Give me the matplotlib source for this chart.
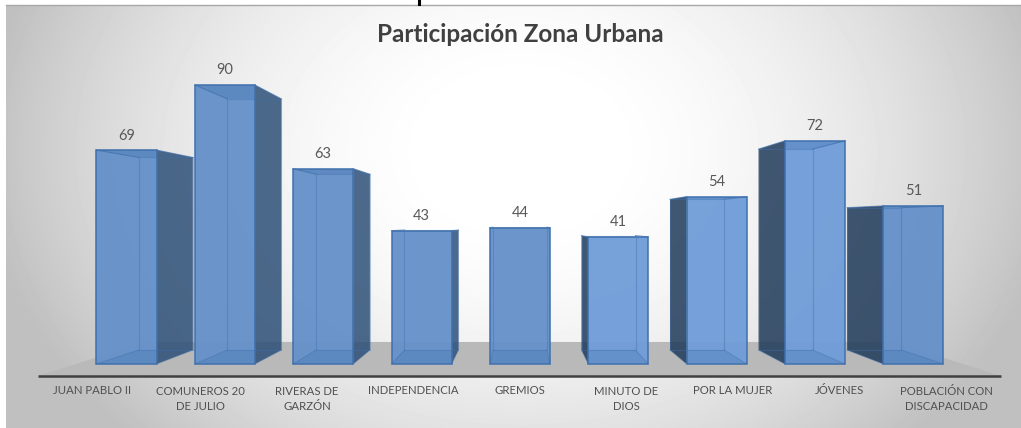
import numpy as np
import matplotlib
matplotlib.use('Agg')
import matplotlib.pyplot as plt
from matplotlib.patches import Polygon

# datos
categorias = ['JUAN PABLO II', 'COMUNEROS 20\nDE JULIO', 'RIVERAS DE\nGARZÓN', 'INDEPENDENCIA', 'GREMIOS',
              'MINUTO DE\nDIOS', 'POR LA MUJER', 'JÓVENES', 'POBLACIÓN CON\nDISCAPACIDAD']
valores = [69, 90, 63, 43, 44, 41, 54, 72, 51]
titulo = 'Participación Zona Urbana'
etq_x = [92, 200, 307, 413, 520, 626, 733, 839, 946]

W, H = 1021, 428
ESC_X = 98.37   # px por categoria
ESC_Y = 3.1     # px por unidad
X0, Y0 = 126.5, 364
FONDO = 0.9     # escala de la cara trasera
VX, VY = 4.0, (Y0 - 224) / ESC_Y  # punto de fuga
ANCHO = 0.305

def atras(x, y, s=FONDO):
    return VX + s * (x - VX), VY + s * (y - VY)

plt.rcParams['font.family'] = 'Lato'
fig = plt.figure(figsize=(W / 100, H / 100), dpi=100, facecolor='white')

# fondo degradado
bg = fig.add_axes([6 / W, 0, 1 - 6 / W, 1 - 5 / H])
px, py = np.meshgrid(np.arange(6, W), np.arange(5, H))
t2 = ((px - 520) / 520.0) ** 2 + ((py - 150) / 400.0) ** 2
gris = np.clip(1 - 0.24 * np.clip(t2 - 0.03, 0, None), 0.75, 1)
bg.imshow(gris, cmap='gray', vmin=0, vmax=1, aspect='auto')
bg.axis('off')
fig.add_artist(plt.Line2D([6 / W, 1], [1 - 4.5 / H] * 2, color='#a8a8a8', lw=1))
fig.add_artist(plt.Line2D([419 / W] * 2, [1 - 4 / H, 1], color='black', lw=2.2))

ax = fig.add_axes([0, 0, 1, 1])
ax.patch.set_alpha(0)
ax.set_xlim(-X0 / ESC_X, (W - X0) / ESC_X)
ax.set_ylim((Y0 - H) / ESC_Y, Y0 / ESC_Y)
ax.axis('off')

# piso
piso_x, piso_x2, piso_y = -0.90, 8.89, -3.87
s_piso = 0.776
ax.add_patch(Polygon([(piso_x, piso_y), (piso_x2, piso_y), atras(piso_x2, piso_y, s_piso), atras(piso_x, piso_y, s_piso)],
                     fc='#b9b9b9', ec='none', zorder=1))
ax.plot([piso_x, piso_x2], [piso_y, piso_y], color='#404040', lw=1.8, zorder=2, solid_capstyle='butt')

for i, v in enumerate(valores):
    x1, x2 = i - ANCHO, i + ANCHO
    bx1, by0 = atras(x1, 0)
    bx2, by1 = atras(x2, v)
    linea = '#3f70ad'
    # laterales
    if i < VX:
        ax.add_patch(Polygon([(x2, 0), (bx2, by0), (bx2, by1), (x2, v)], fc='#2d5077', ec='none', alpha=0.85, zorder=3))
    elif i > VX:
        ax.add_patch(Polygon([(x1, 0), (bx1, by0), (bx1, by1), (x1, v)], fc='#1f3a5a', ec='none', alpha=0.85, zorder=3))
    # frente
    color = '#6f9cd8' if 5 <= i <= 7 else '#6490c9'
    frente = Polygon([(x1, 0), (x2, 0), (x2, v), (x1, v)], fc=color, ec='none', alpha=0.95, zorder=4)
    ax.add_patch(frente)
    # tapa y base, recortadas al frente
    tapa = Polygon([(x1, v), (x2, v), (bx2, by1), (bx1, by1)], fc='#3f70ad', ec='none', alpha=0.3, zorder=5)
    base = Polygon([(x1, 0), (x2, 0), (bx2, by0), (bx1, by0)], fc='#3f70ad', ec='none', alpha=0.25, zorder=5)
    ax.add_patch(tapa)
    ax.add_patch(base)
    tapa.set_clip_path(frente)
    base.set_clip_path(frente)
    # aristas de la cara trasera
    ax.plot([bx1, bx1, bx2, bx2, bx1], [by0, by1, by1, by0, by0], color=linea, lw=0.8, alpha=0.4, zorder=6)
    ax.plot([x1, bx1], [v, by1], color=linea, lw=0.8, alpha=0.7, zorder=6)
    ax.plot([x2, bx2], [v, by1], color=linea, lw=0.8, alpha=0.7, zorder=6)
    ax.plot([x1, bx1], [0, by0], color=linea, lw=0.8, alpha=0.4, zorder=6)
    ax.plot([x2, bx2], [0, by0], color=linea, lw=0.8, alpha=0.4, zorder=6)
    ax.add_patch(Polygon([(x1, 0), (x2, 0), (x2, v), (x1, v)], fc='none', ec=linea, lw=1.1, zorder=7))
    ax.text(i, v + 14.5 / ESC_Y, str(v), ha='center', va='center', fontsize=10.5, color='#595959', zorder=20)

# etiquetas
for i, c in enumerate(categorias):
    y_px = 399 if '\n' in c else 391
    ax.text((etq_x[i] - X0) / ESC_X, (Y0 - y_px) / ESC_Y, c, ha='center', va='center',
            fontsize=8.2, color='#505050', linespacing=1.5)

ax.text(VX, (Y0 - 35) / ESC_Y, titulo, ha='center', va='center', fontsize=17.5, fontweight='bold', color='#404040', zorder=20)

fig.savefig('out.png', dpi=100)
